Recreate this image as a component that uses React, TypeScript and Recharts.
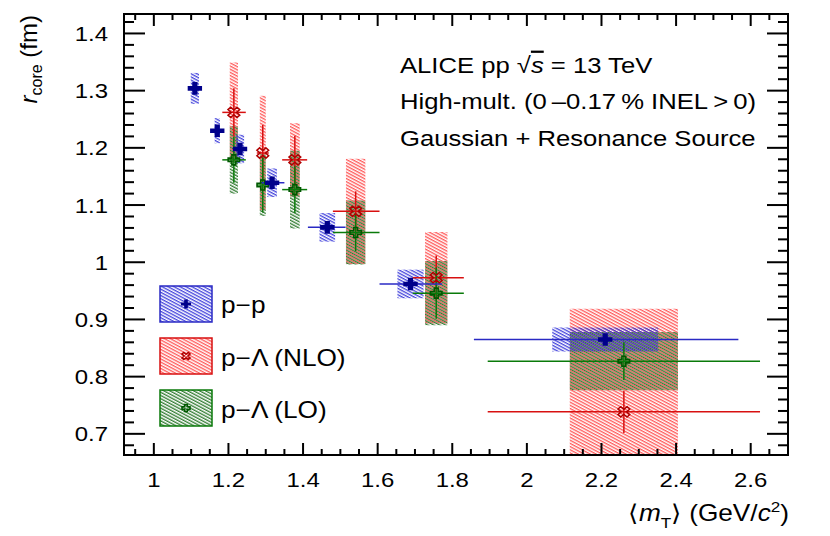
import React from 'react';
import { ComposedChart, XAxis, YAxis, Scatter, ErrorBar, ReferenceArea } from 'recharts';

// axis ranges and ticks
const X_DOMAIN: [number, number] = [0.92, 2.7];
const Y_DOMAIN: [number, number] = [0.663, 1.434];
const X_MAJOR = [1, 1.2, 1.4, 1.6, 1.8, 2, 2.2, 2.4, 2.6];
const X_TICKS = [0.95, 1, 1.05, 1.1, 1.15, 1.2, 1.25, 1.3, 1.35, 1.4, 1.45, 1.5, 1.55, 1.6, 1.65, 1.7, 1.75, 1.8,
  1.85, 1.9, 1.95, 2, 2.05, 2.1, 2.15, 2.2, 2.25, 2.3, 2.35, 2.4, 2.45, 2.5, 2.55, 2.6, 2.65];
const Y_MAJOR = [0.7, 0.8, 0.9, 1, 1.1, 1.2, 1.3, 1.4];
const Y_TICKS = [0.68, 0.7, 0.72, 0.74, 0.76, 0.78, 0.8, 0.82, 0.84, 0.86, 0.88, 0.9, 0.92, 0.94, 0.96, 0.98, 1,
  1.02, 1.04, 1.06, 1.08, 1.1, 1.12, 1.14, 1.16, 1.18, 1.2, 1.22, 1.24, 1.26, 1.28, 1.3, 1.32, 1.34, 1.36, 1.38,
  1.4, 1.42];

// p-p
const ppMt = [1.110, 1.170, 1.231, 1.317, 1.465, 1.688, 2.210];
const ppR = [1.304, 1.230, 1.198, 1.139, 1.061, 0.962, 0.865];
const ppStat = [0.006, 0.006, 0.006, 0.006, 0.006, 0.006, 0.006];
const ppMtLo = [0.012, 0.012, 0.012, 0.033, 0.052, 0.083, 0.352];
const ppMtHi = [0.012, 0.012, 0.012, 0.033, 0.049, 0.085, 0.357];
const ppSyst = [0.027, 0.022, 0.025, 0.025, 0.025, 0.025, 0.021];
const ppBoxHalf = [0.011, 0.007, 0.011, 0.013, 0.021, 0.035, 0.142];

// p-Lambda, shared mT bins
const plMt = [1.2145, 1.292, 1.378, 1.541, 1.757, 2.26];
const plMtLo = [0.031, 0.016, 0.034, 0.061, 0.063, 0.365];
const plMtHi = [0.032, 0.016, 0.033, 0.064, 0.074, 0.365];
const plBoxHalf = [0.011, 0.008, 0.013, 0.026, 0.03, 0.145];

// p-Lambda NLO
const nloR = [1.262, 1.191, 1.179, 1.089, 0.973, 0.7385];
const nloStat = [0.042, 0.049, 0.042, 0.035, 0.039, 0.037];
const nloSyst = [0.087, 0.1, 0.064, 0.092, 0.08, 0.18];

// p-Lambda LO
const loR = [1.179, 1.135, 1.127, 1.052, 0.946, 0.827];
const loStat = [0.04, 0.048, 0.041, 0.033, 0.045, 0.033];
const loSyst = [0.059, 0.054, 0.068, 0.056, 0.056, 0.051];

const FONT = '"Liberation Sans", Arial, Helvetica, sans-serif';
const SX = 1.14; // the original text is a bit wider than Arial
const PLOT_LEFT = 124;
const PLOT_RIGHT = 788;
const PLOT_TOP = 14;
const PLOT_BOTTOM = 455;

const BLUE = '#00008b';
const BLUE_LINE = '#2a2ac4';
const RED = '#b00000';
const RED_LINE = '#d81010';
const GREEN = '#005800';
const GREEN_LINE = '#0a7a0a';

const ppData = ppMt.map((x, i) => ({ x, y: ppR[i], ex: [ppMtLo[i], ppMtHi[i]], ey: ppStat[i] }));
const nloData = plMt.map((x, i) => ({ x, y: nloR[i], ex: [plMtLo[i], plMtHi[i]], ey: nloStat[i] }));
const loData = plMt.map((x, i) => ({ x, y: loR[i], ex: [plMtLo[i], plMtHi[i]], ey: loStat[i] }));

const isIn = (v: number, list: number[]) => list.find((m) => Math.abs(m - v) < 1e-6);

const plusPath = (cx: number, cy: number, a: number, t: number) => {
  const ax = a * SX, tx = t * SX;
  return `M${cx - tx},${cy - a}H${cx + tx}V${cy - t}H${cx + ax}V${cy + t}H${cx + tx}V${cy + a}H${cx - tx}V${cy + t}H${cx - ax}V${cy - t}H${cx - tx}Z`;
};

const xPath = (cx: number, cy: number, a: number, t: number) => {
  const pts = [[-t, -a], [t, -a], [t, -t], [a, -t], [a, t], [t, t], [t, a], [-t, a], [-t, t], [-a, t], [-a, -t], [-t, -t]];
  const c = Math.SQRT1_2;
  return 'M' + pts.map(([px, py]) => `${cx + (px * c - py * c) * SX},${cy + (px * c + py * c)}`).join('L') + 'Z';
};

const BlueMarker = ({ cx, cy, s = 1 }: any) => <path d={plusPath(cx, cy, 6.3 * s, 2.3 * s)} fill={BLUE} />;
const RedMarker = ({ cx, cy, s = 1 }: any) => (
  <path d={xPath(cx, cy, 5.6 * s, 1.7 * s)} fill="none" stroke={RED} strokeWidth={1.5} />
);
const GreenMarker = ({ cx, cy, s = 1 }: any) => (
  <path d={plusPath(cx, cy, 5 * s, 1.7 * s)} fill="none" stroke={GREEN} strokeWidth={1.6} />
);

const XTick = (props: any) => {
  const { x, payload } = props;
  const major = isIn(payload.value, X_MAJOR);
  const len = major !== undefined ? 12 : 6;
  return (
    <g>
      <line x1={x} x2={x} y1={PLOT_BOTTOM} y2={PLOT_BOTTOM - len} stroke="#000" strokeWidth={2} />
      <line x1={x} x2={x} y1={PLOT_TOP} y2={PLOT_TOP + len} stroke="#000" strokeWidth={2} />
      {major !== undefined && (
        <text transform={`translate(${x},487) scale(${SX},1)`} textAnchor="middle" fontSize={21} fontFamily={FONT}>
          {String(major)}
        </text>
      )}
    </g>
  );
};

const YTick = (props: any) => {
  const { y, payload } = props;
  const major = isIn(payload.value, Y_MAJOR);
  const len = major !== undefined ? 21 : 10;
  return (
    <g>
      <line x1={PLOT_LEFT} x2={PLOT_LEFT + len} y1={y} y2={y} stroke="#000" strokeWidth={2} />
      <line x1={PLOT_RIGHT} x2={PLOT_RIGHT - len} y1={y} y2={y} stroke="#000" strokeWidth={2} />
      {major !== undefined && (
        <text transform={`translate(108,${y + 7.5}) scale(${SX},1)`} textAnchor="end" fontSize={21} fontFamily={FONT}>
          {String(major)}
        </text>
      )}
    </g>
  );
};

const Hatch = ({ id, color, offset }: { id: string; color: string; offset: number }) => (
  <pattern id={id} patternUnits="userSpaceOnUse" width={8} height={2.8} patternTransform="rotate(28)">
    <line x1={0} y1={offset} x2={8} y2={offset} stroke={color} strokeWidth={1.2} />
  </pattern>
);

const T = ({ x, y, size, anchor = 'start', children }: any) => (
  <text transform={`translate(${x},${y}) scale(${SX},1)`} fontSize={size} textAnchor={anchor} fontFamily={FONT}>
    {children}
  </text>
);

const boxes = (mt: number[], half: number[], r: number[], syst: number[], fill: string, key: string) =>
  mt.map((x, i) => (
    <ReferenceArea
      key={key + i}
      x1={x - half[i]}
      x2={x + half[i]}
      y1={r[i] - syst[i]}
      y2={r[i] + syst[i]}
      fill={fill}
      fillOpacity={1}
      stroke="none"
      ifOverflow="hidden"
    />
  ));

export default function App() {
  return (
    <div style={{ position: 'absolute', left: 0, top: 0, width: 830, height: 536, background: '#fff' }}>
      <svg width={0} height={0} style={{ position: 'absolute' }}>
        <defs>
          <Hatch id="hatchBlue" color="#2f2fd8" offset={0.7} />
          <Hatch id="hatchRed" color="#ff4646" offset={0.7} />
          <Hatch id="hatchGreen" color="#1c6e1c" offset={2.1} />
        </defs>
      </svg>
      <ComposedChart width={830} height={536} margin={{ top: 14, right: 42, bottom: 0, left: 0 }}>
        <XAxis
          type="number"
          dataKey="x"
          domain={X_DOMAIN}
          allowDataOverflow
          ticks={X_TICKS}
          interval={0}
          tick={<XTick />}
          tickLine={false}
          axisLine={false}
          height={81}
        />
        <YAxis
          type="number"
          dataKey="y"
          domain={Y_DOMAIN}
          allowDataOverflow
          ticks={Y_TICKS}
          interval={0}
          tick={<YTick />}
          tickLine={false}
          axisLine={false}
          width={124}
        />
        {boxes(plMt, plBoxHalf, nloR, nloSyst, 'url(#hatchRed)', 'nlo')}
        {boxes(plMt, plBoxHalf, loR, loSyst, 'url(#hatchGreen)', 'lo')}
        {boxes(ppMt, ppBoxHalf, ppR, ppSyst, 'url(#hatchBlue)', 'pp')}
        <ReferenceArea
          x1={X_DOMAIN[0]}
          x2={X_DOMAIN[1]}
          y1={Y_DOMAIN[0]}
          y2={Y_DOMAIN[1]}
          fill="none"
          stroke="#000"
          strokeWidth={2}
          ifOverflow="visible"
        />
        <Scatter data={nloData} isAnimationActive={false} shape={(p: any) => <RedMarker cx={p.cx} cy={p.cy} />}>
          <ErrorBar dataKey="ex" direction="x" width={0} stroke={RED_LINE} strokeWidth={1.5} isAnimationActive={false} />
          <ErrorBar dataKey="ey" direction="y" width={0} stroke={RED_LINE} strokeWidth={1.5} isAnimationActive={false} />
        </Scatter>
        <Scatter data={loData} isAnimationActive={false} shape={(p: any) => <GreenMarker cx={p.cx} cy={p.cy} />}>
          <ErrorBar dataKey="ex" direction="x" width={0} stroke={GREEN_LINE} strokeWidth={1.5} isAnimationActive={false} />
          <ErrorBar dataKey="ey" direction="y" width={0} stroke={GREEN_LINE} strokeWidth={1.5} isAnimationActive={false} />
        </Scatter>
        <Scatter data={ppData} isAnimationActive={false} shape={(p: any) => <BlueMarker cx={p.cx} cy={p.cy} />}>
          <ErrorBar dataKey="ex" direction="x" width={0} stroke={BLUE_LINE} strokeWidth={1.5} isAnimationActive={false} />
          <ErrorBar dataKey="ey" direction="y" width={0} stroke={BLUE_LINE} strokeWidth={1.5} isAnimationActive={false} />
        </Scatter>
      </ComposedChart>

      <svg width={830} height={536} style={{ position: 'absolute', left: 0, top: 0, pointerEvents: 'none' }}>
        {/* annotations */}
        <T x={400} y={73} size={22.5}>
          ALICE pp{'  '}√<tspan fontStyle="italic" style={{ textDecoration: 'overline' }}>s</tspan> = 13 TeV
        </T>
        <T x={400} y={109} size={22.5}>
          High-mult. (0{'\u2009'}–0.17{'\u2009'}% INEL{'\u2009'}&gt;{'\u2009'}0)
        </T>
        <T x={400} y={146} size={22.5}>
          Gaussian + Resonance Source
        </T>

        {/* legend */}
        <rect x={160} y={286} width={52} height={36} fill="url(#hatchBlue)" stroke={BLUE_LINE} strokeWidth={1.5} />
        <BlueMarker cx={186} cy={304} s={0.7} />
        <T x={221} y={313} size={23}>p−p</T>
        <rect x={160} y={338} width={52} height={36} fill="url(#hatchRed)" stroke={RED_LINE} strokeWidth={1.5} />
        <RedMarker cx={186} cy={356} s={0.7} />
        <T x={221} y={366} size={23}>p−Λ (NLO)</T>
        <rect x={160} y={390} width={52} height={36} fill="url(#hatchGreen)" stroke={GREEN_LINE} strokeWidth={1.5} />
        <GreenMarker cx={186} cy={408} s={0.7} />
        <T x={221} y={418} size={23}>p−Λ (LO)</T>

        {/* axis titles */}
        <T x={789} y={521} size={23} anchor="end">
          ⟨<tspan fontStyle="italic">m</tspan>
          <tspan fontSize={15} dy={7}>T</tspan>
          <tspan dy={-7}>⟩{'  '}(GeV/</tspan>
          <tspan fontStyle="italic">c</tspan>
          <tspan fontSize={15} dy={-9}>2</tspan>
          <tspan dy={9}>)</tspan>
        </T>
        <text transform="translate(37,15) rotate(-90)" textAnchor="end" fontSize={24} fontFamily={FONT}>
          <tspan fontStyle="italic">r</tspan>
          <tspan fontSize={16} dy={5}>core</tspan>
          <tspan dy={-5}> (fm)</tspan>
        </text>
      </svg>
    </div>
  );
}
